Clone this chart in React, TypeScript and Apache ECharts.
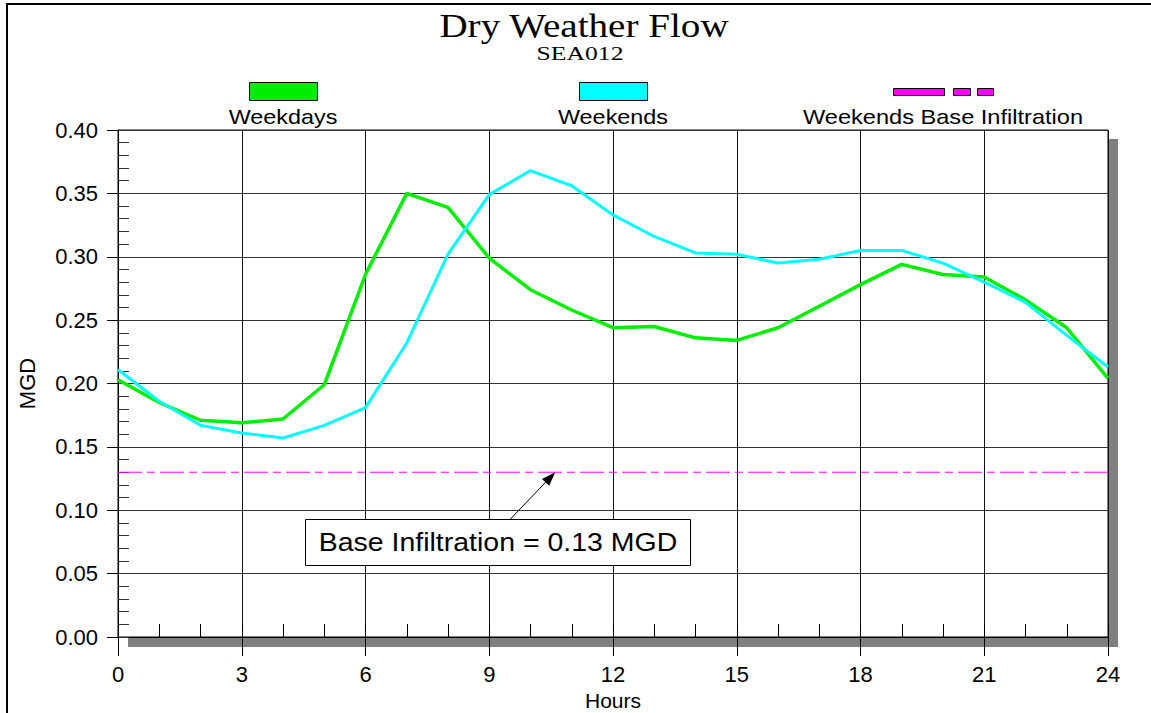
import React, { useEffect, useRef } from 'react';
import * as echarts from 'echarts';

const hours = [0, 1, 2, 3, 4, 5, 6, 7, 8, 9, 10, 11, 12, 13, 14, 15, 16, 17, 18, 19, 20, 21, 22, 23, 24];
const weekdays = [0.203, 0.185, 0.171, 0.169, 0.172, 0.199, 0.286, 0.350, 0.339, 0.299, 0.274, 0.258, 0.244, 0.245, 0.236, 0.234, 0.244, 0.261, 0.278, 0.294, 0.286, 0.284, 0.266, 0.244, 0.204];
const weekends = [0.211, 0.186, 0.167, 0.161, 0.157, 0.167, 0.181, 0.232, 0.302, 0.349, 0.368, 0.356, 0.333, 0.316, 0.303, 0.302, 0.295, 0.298, 0.305, 0.305, 0.295, 0.280, 0.264, 0.238, 0.213];
const baseInfiltration = 0.13;
const baseHours = [0, 24];
const annotationPoint = [10.6, 0.13];
const seriesNames = ['Weekdays', 'Weekends', 'Weekends Base Infiltration'];
const titleText = 'Dry Weather Flow';
const subtitleText = 'SEA012';
const annotationText = 'Base Infiltration = 0.13 MGD';

const SANS = '"Liberation Sans", Arial, Helvetica, sans-serif';
const SERIF = '"Liberation Serif", "Times New Roman", serif';
const GREEN = '#00ee00';
const CYAN = '#00ffff';
const MAGENTA = '#ff00ff';

function txt(text: string, x: number, y: number, size: number, family: string, scaleX: number, z = 20) {
  return {
    type: 'text',
    x,
    y,
    scaleX,
    z,
    style: {
      text,
      x: 0,
      y: 0,
      fill: '#000',
      fontSize: size,
      fontFamily: family,
      align: 'center',
      verticalAlign: 'middle',
      textAlign: 'center',
      textVerticalAlign: 'middle',
    },
  };
}

export default function App() {
  const ref = useRef<HTMLDivElement>(null);
  useEffect(() => {
    if (!ref.current) return;
    const chart = echarts.init(ref.current, undefined, { renderer: 'svg' });
    const option: any = {
      animation: false,
      backgroundColor: '#ffffff',
      grid: {
        left: 118,
        top: 130,
        right: 43,
        bottom: 76,
        containLabel: false,
        outerBoundsMode: 'none',
        show: true,
        borderColor: '#000',
        borderWidth: 1,
        backgroundColor: 'transparent',
      },
      xAxis: [
        {
          type: 'value',
          min: 0,
          max: 24,
          interval: 3,
          position: 'bottom',
          name: 'Hours',
          nameLocation: 'middle',
          nameGap: 53,
          nameMoveOverlap: false,
          nameTextStyle: { fontFamily: SANS, fontSize: 21, lineHeight: 20, color: '#000' },
          axisLine: { show: true, onZero: false, lineStyle: { color: '#000', width: 1 } },
          axisTick: { show: true, inside: false, length: 19, lineStyle: { color: '#000', width: 1 } },
          axisLabel: { margin: 27, fontSize: 22, lineHeight: 20, color: '#000', fontFamily: SANS },
          splitLine: { show: true, lineStyle: { color: '#111', width: 1 } },
        },
        {
          type: 'value',
          min: 0,
          max: 24,
          interval: 1,
          position: 'bottom',
          axisLine: { show: false, onZero: false },
          axisTick: { show: true, inside: true, length: 13, lineStyle: { color: '#000', width: 1 } },
          axisLabel: { show: false },
          splitLine: { show: false },
        },
      ],
      yAxis: [
        {
          type: 'value',
          min: 0,
          max: 0.4,
          interval: 0.05,
          position: 'left',
          name: 'MGD',
          nameLocation: 'middle',
          nameGap: 80,
          nameRotate: 90,
          nameMoveOverlap: false,
          nameTextStyle: { fontFamily: SANS, fontSize: 22, color: '#000' },
          axisLine: { show: true, onZero: false, lineStyle: { color: '#000', width: 1 } },
          axisTick: { show: true, inside: false, length: 11, lineStyle: { color: '#000', width: 1 } },
          axisLabel: {
            margin: 20,
            fontSize: 22,
            color: '#000',
            fontFamily: SANS,
            formatter: (v: number) => v.toFixed(2),
          },
          splitLine: { show: true, lineStyle: { color: '#333', width: 1 } },
        },
        {
          type: 'value',
          min: 0,
          max: 0.4,
          interval: 0.01,
          position: 'left',
          axisLine: { show: false, onZero: false },
          axisTick: { show: true, inside: true, length: 11, lineStyle: { color: '#333', width: 1 } },
          axisLabel: { show: false },
          splitLine: { show: false },
        },
      ],
      series: [
        {
          name: seriesNames[2],
          type: 'line',
          xAxisIndex: 0,
          yAxisIndex: 0,
          data: baseHours.map((h) => [h, baseInfiltration]),
          symbol: 'none',
          lineStyle: { color: MAGENTA, width: 1, type: [24, 5, 8, 5] },
          z: 3,
        },
        {
          name: seriesNames[0],
          type: 'line',
          xAxisIndex: 0,
          yAxisIndex: 0,
          data: hours.map((h, i) => [h, weekdays[i]]),
          symbol: 'none',
          lineStyle: { color: GREEN, width: 3.5 },
          z: 4,
        },
        {
          name: seriesNames[1],
          type: 'line',
          xAxisIndex: 0,
          yAxisIndex: 0,
          data: hours.map((h, i) => [h, weekends[i]]),
          symbol: 'none',
          lineStyle: { color: CYAN, width: 3 },
          z: 5,
        },
      ],
    };
    chart.setOption(option);

    const tip = chart.convertToPixel({ gridIndex: 0 }, annotationPoint) as number[];
    const tail = [tip[0] - 45, tip[1] + 47];
    const len = Math.hypot(tip[0] - tail[0], tip[1] - tail[1]);
    const ux = (tip[0] - tail[0]) / len;
    const uy = (tip[1] - tail[1]) / len;
    const bx = tip[0] - ux * 14;
    const by = tip[1] - uy * 14;
    const px = -uy;
    const py = ux;

    const graphic: any[] = [
      // frame
      { type: 'line', z: 30, shape: { x1: 7, y1: 3, x2: 7, y2: 713 }, style: { stroke: '#000', lineWidth: 2 } },
      { type: 'line', z: 30, shape: { x1: 6, y1: 4, x2: 1151, y2: 4 }, style: { stroke: '#000', lineWidth: 2 } },
      // shadows
      { type: 'rect', z: -5, shape: { x: 1109, y: 139, width: 9, height: 508 }, style: { fill: '#808080' } },
      { type: 'rect', z: -5, shape: { x: 128, y: 637, width: 990, height: 10 }, style: { fill: '#808080' } },
      // titles
      txt(titleText, 584, 25, 34, SERIF, 1.15),
      txt(subtitleText, 580, 54, 19, SERIF, 1.35),
      // legend
      { type: 'rect', z: 20, shape: { x: 249.5, y: 82.5, width: 68, height: 18 }, style: { fill: GREEN, stroke: '#000', lineWidth: 1 } },
      { type: 'rect', z: 20, shape: { x: 579.5, y: 82.5, width: 68, height: 18 }, style: { fill: CYAN, stroke: '#000', lineWidth: 1 } },
      { type: 'rect', z: 20, shape: { x: 893.5, y: 88.5, width: 51, height: 7 }, style: { fill: MAGENTA, stroke: '#000', lineWidth: 1 } },
      { type: 'rect', z: 20, shape: { x: 953.5, y: 88.5, width: 17, height: 7 }, style: { fill: MAGENTA, stroke: '#000', lineWidth: 1 } },
      { type: 'rect', z: 20, shape: { x: 977.5, y: 88.5, width: 16, height: 7 }, style: { fill: MAGENTA, stroke: '#000', lineWidth: 1 } },
      txt(seriesNames[0], 283, 117, 20, SANS, 1.17),
      txt(seriesNames[1], 613, 117, 20, SANS, 1.17),
      txt(seriesNames[2], 943, 117, 20, SANS, 1.18),
      // annotation
      { type: 'line', z: 25, shape: { x1: tail[0], y1: tail[1], x2: bx, y2: by }, style: { stroke: '#000', lineWidth: 1 } },
      {
        type: 'polygon',
        z: 25,
        shape: {
          points: [
            [tip[0], tip[1]],
            [bx + px * 5, by + py * 5],
            [bx - px * 5, by - py * 5],
          ],
        },
        style: { fill: '#000' },
      },
      { type: 'rect', z: 25, shape: { x: 305.5, y: 519.5, width: 385, height: 46 }, style: { fill: '#fff', stroke: '#000', lineWidth: 1 } },
      txt(annotationText, 498, 543, 25, SANS, 1.14, 26),
    ];
    chart.setOption({ graphic });

    return () => chart.dispose();
  }, []);
  return <div ref={ref} style={{ position: 'absolute', left: 0, top: 0, width: 1151, height: 713 }} />;
}
